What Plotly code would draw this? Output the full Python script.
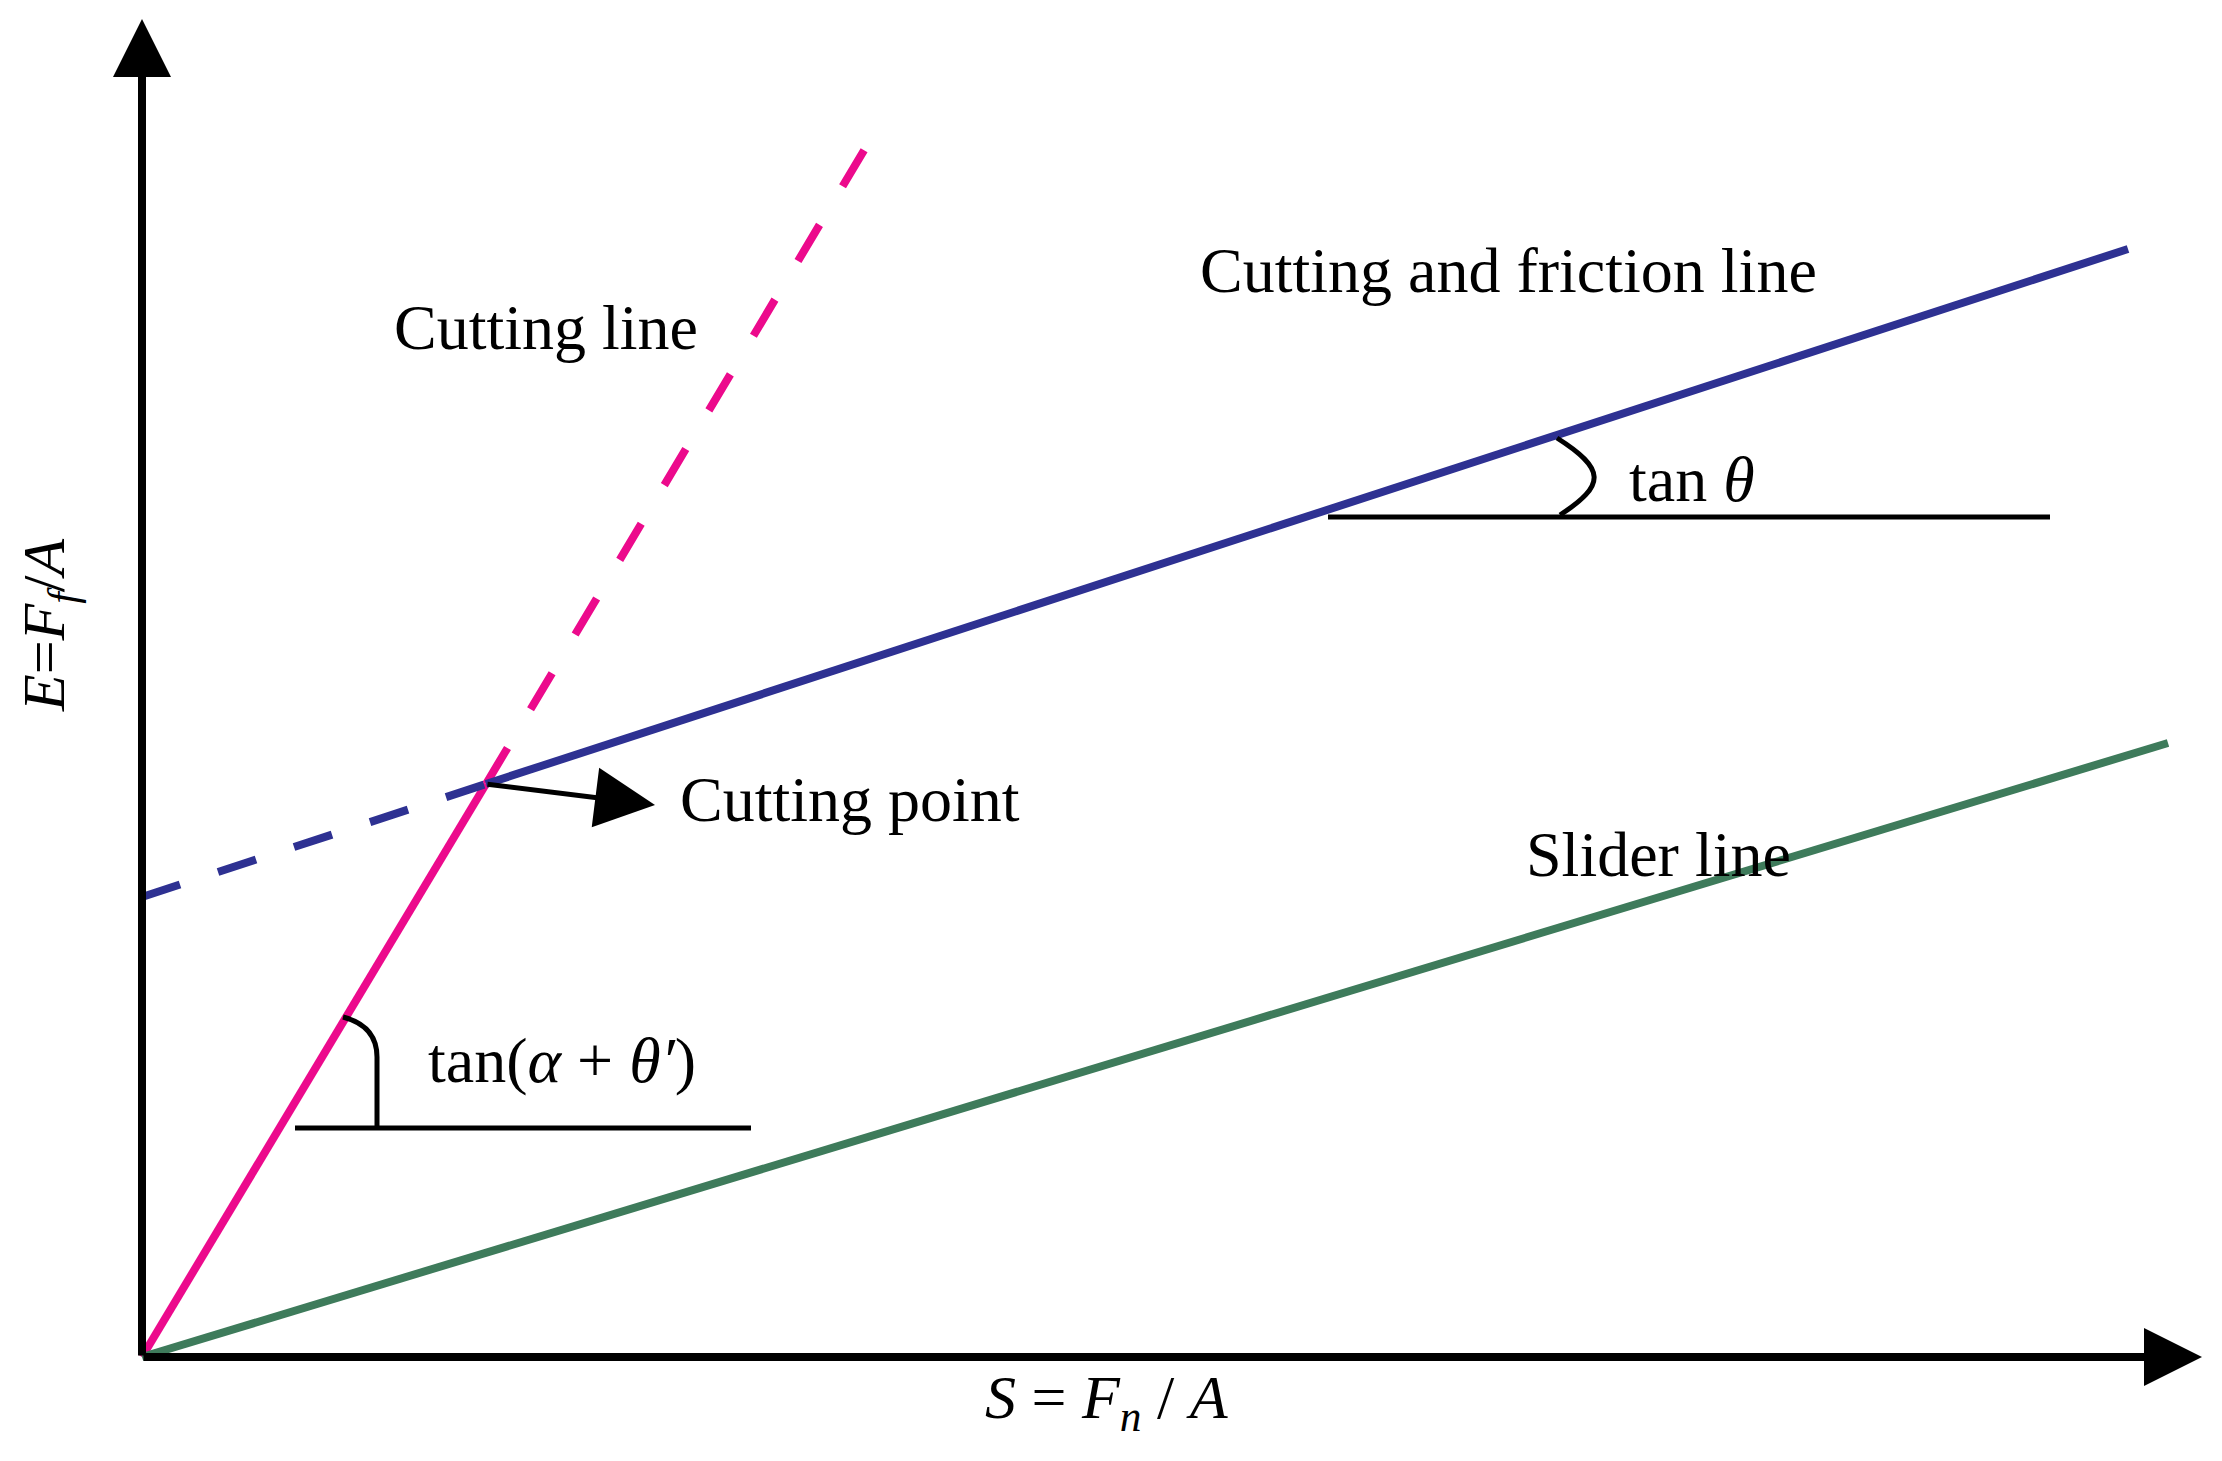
import plotly.graph_objects as go

# schematic line data (arbitrary units, origin at axes corner)
cut_x = [0.0, 1.72, 3.62]
cut_y = [0.0, 2.865, 6.05]
fric_x = [0.0, 1.72, 9.93]
fric_y = [2.30, 2.865, 5.54]
slid_x = [0.0, 10.13]
slid_y = [0.0, 3.07]

x_end = 10.30
y_end = 6.69

labels = ["Cutting line", "Cutting and friction line", "Cutting point", "Slider line",
          "tan <i>θ</i>", "tan(<i>α</i> + <i>θ′</i>)"]
label_x = [2.02, 6.83, 3.54, 7.58, 7.75, 2.10]
label_y = [5.15, 5.435, 2.79, 2.515, 4.39, 1.485]

pink = "#EC0A8C"
blue = "#2E3192"
green = "#3E7B5B"
font = "Liberation Serif, Times New Roman, serif"

fig = go.Figure()

fig.add_trace(go.Scatter(x=cut_x[:2], y=cut_y[:2], mode="lines",
                         line=dict(color=pink, width=8)))
fig.add_trace(go.Scatter(x=cut_x[1:], y=cut_y[1:], mode="lines",
                         line=dict(color=pink, width=8, dash="42px,45px")))
fig.add_trace(go.Scatter(x=fric_x[:2], y=fric_y[:2], mode="lines",
                         line=dict(color=blue, width=8, dash="40px,40px")))
fig.add_trace(go.Scatter(x=fric_x[1:], y=fric_y[1:], mode="lines",
                         line=dict(color=blue, width=8)))
fig.add_trace(go.Scatter(x=slid_x, y=slid_y, mode="lines",
                         line=dict(color=green, width=8)))

# axes with arrow heads
for tip in [(x_end, 0), (0, y_end)]:
    fig.add_annotation(x=tip[0], y=tip[1], ax=0, ay=0, xref="x", yref="y",
                       axref="x", ayref="y", text="", showarrow=True,
                       arrowhead=2, arrowwidth=8, arrowsize=1.45, arrowcolor="black")

# cutting point arrow
fig.add_annotation(x=2.565, y=2.76, ax=cut_x[1], ay=cut_y[1], xref="x", yref="y",
                   axref="x", ayref="y", text="", showarrow=True,
                   arrowhead=2, arrowwidth=5, arrowsize=2.4, arrowcolor="black")

# angle markers
fig.add_shape(type="line", x0=0.765, y0=1.145, x1=3.045, y1=1.145,
              line=dict(color="black", width=5))
fig.add_shape(type="path", path="M 1.005,1.70 C 1.12,1.67 1.175,1.60 1.175,1.50 L 1.175,1.145",
              line=dict(color="black", width=5))
fig.add_shape(type="line", x0=5.93, y0=4.20, x1=9.54, y1=4.20,
              line=dict(color="black", width=5))
fig.add_shape(type="path", path="M 7.075,4.595 C 7.32,4.44 7.32,4.36 7.09,4.21",
              line=dict(color="black", width=5))

for t, x, y in zip(labels, label_x, label_y):
    fig.add_annotation(x=x, y=y, xref="x", yref="y", text=t, showarrow=False,
                       font=dict(family=font, size=64, color="black"))

fig.add_annotation(x=4.825, y=-0.22, xref="x", yref="y", showarrow=False,
                   text="<i>S</i> = <i>F</i><sub><i>n</i></sub> / <i>A</i>",
                   font=dict(family=font, size=62, color="black"))
fig.add_annotation(x=-0.47, y=3.66, xref="x", yref="y", showarrow=False, textangle=-90,
                   text="<i>E</i>=<i>F</i><sub><i>f</i></sub>/<i>A</i>",
                   font=dict(family=font, size=60, color="black"))

# ranges offset by the 8px page margin so the origin lands where the reference has it
fig.update_xaxes(range=[-0.67, 10.44], visible=False)
fig.update_yaxes(range=[-0.56, 6.745], visible=False)
fig.update_layout(width=2222, height=1461, margin=dict(l=0, r=0, t=0, b=0),
                  paper_bgcolor="white", plot_bgcolor="white", showlegend=False)

fig.write_html("out.html")
